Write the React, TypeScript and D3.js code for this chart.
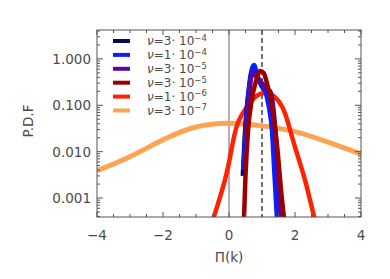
import React from "react";
import * as d3 from "d3";

const W = 390, H = 279;
const M = { left: 97, right: 361, top: 30, bottom: 217 };

const xDomain = [-4, 4];
const yDomain = [0.00039, 4.2];
const xTickLabels = [-4, -2, 0, 2, 4];
const yTickLabels = [0.001, 0.01, 0.1, 1];
const yTickText = ["0.001", "0.010", "0.100", "1.000"];

const legendCoef = ["3", "1", "3", "3", "1", "3"];
const legendExp = ["4", "4", "5", "5", "6", "7"];
const colors = ["#06065e", "#0a1eff", "#5508a0", "#9a0000", "#ff2200", "#ffa352"];
const widths = [4.5, 4.5, 4.5, 4.5, 4.5, 5];

const navyX = [0.42, 0.5, 0.6, 0.7, 0.85, 1.0, 1.15, 1.3, 1.45, 1.55];
const navyY = [0.003, 0.04, 0.2, 0.55, 0.4, 0.25, 0.18, 0.05, 0.005, 0.0003];
const blueX = [0.44, 0.5, 0.55, 0.62, 0.76, 0.85, 1.0, 1.1, 1.2, 1.3, 1.38, 1.46];
const blueY = [0.004, 0.03, 0.1, 0.3, 0.74, 0.45, 0.27, 0.2, 0.1, 0.03, 0.003, 0.0003];
const purpleX = [0.5, 0.6, 0.72, 0.85, 1.0, 1.15, 1.25, 1.35, 1.45, 1.57];
const purpleY = [0.02, 0.15, 0.5, 0.4, 0.3, 0.22, 0.2, 0.08, 0.01, 0.0003];
const darkRedX = [0.45, 0.5, 0.58, 0.68, 0.8, 0.95, 1.05, 1.15, 1.3, 1.45, 1.6, 1.68];
const darkRedY = [0.0003, 0.003, 0.03, 0.12, 0.3, 0.55, 0.5, 0.3, 0.1, 0.015, 0.001, 0.0003];
const redX = [-0.5, -0.42, -0.12, 0.09, 0.27, 0.55, 0.82, 1.09, 1.36, 1.61, 1.79, 2.0, 2.3, 2.55, 2.65];
const redY = [0.0003, 0.00048, 0.0025, 0.0126, 0.042, 0.093, 0.157, 0.185, 0.157, 0.093, 0.042, 0.0126, 0.0025, 0.00048, 0.0003];
const orangeX = [-4, -3, -2, -1, 0, 1, 2, 3, 4];
const orangeY = [0.0039, 0.0078, 0.018, 0.034, 0.041, 0.036, 0.027, 0.016, 0.0089];

const seriesX = [navyX, blueX, purpleX, darkRedX, redX, orangeX];
const seriesY = [navyY, blueY, purpleY, darkRedY, redY, orangeY];
const drawOrder = [5, 4, 0, 1, 2, 3];

export default function App() {
  const x = d3.scaleLinear().domain(xDomain).range([M.left, M.right]);
  const y = d3.scaleLog().domain(yDomain).range([M.bottom, M.top]);
  const axisCol = "#555";
  const textCol = "#4a4a4a";
  const font = "'DejaVu Sans', sans-serif";

  const xMinor = d3.range(-4, 4.001, 0.5);
  const yMinor: number[] = [];
  for (let e = -4; e <= 0; e++) {
    for (let k = 1; k < 10; k++) {
      const v = k * Math.pow(10, e);
      if (v >= yDomain[0] && v <= yDomain[1]) yMinor.push(v);
    }
  }

  const makeLine = (i: number) => {
    const pts = seriesX[i].map((xv, j) => [xv, seriesY[i][j]] as [number, number]);
    const curve = i >= 4 ? d3.curveNatural : d3.curveMonotoneX;
    return d3
      .line<[number, number]>()
      .x((d) => x(d[0]))
      .y((d) => y(d[1]))
      .curve(curve)(pts) as string;
  };

  return (
    <svg width={W} height={H} style={{ position: "absolute", left: 0, top: 0 }}>
      <rect x={0} y={0} width={W} height={H} fill="#fff" />
      <defs>
        <clipPath id="plotclip">
          <rect x={M.left} y={M.top} width={M.right - M.left} height={M.bottom - M.top} />
        </clipPath>
      </defs>
      <line x1={x(0)} x2={x(0)} y1={M.top} y2={M.bottom} stroke="#666" strokeWidth={1} />
      <line x1={x(1)} x2={x(1)} y1={M.top} y2={M.bottom} stroke="#444" strokeWidth={1.5} strokeDasharray="5,3" />
      <g clipPath="url(#plotclip)">
        {drawOrder.map((i) => (
          <path key={i} d={makeLine(i)} fill="none" stroke={colors[i]} strokeWidth={widths[i]} strokeLinejoin="round" />
        ))}
      </g>
      <rect x={M.left} y={M.top} width={M.right - M.left} height={M.bottom - M.top} fill="none" stroke={axisCol} strokeWidth={1} />
      {xMinor.map((v) => {
        const major = Math.abs(v % 2) < 1e-9;
        const len = major ? 5 : 3;
        return (
          <g key={"xt" + v}>
            <line x1={x(v)} x2={x(v)} y1={M.bottom} y2={M.bottom - len} stroke={axisCol} />
            <line x1={x(v)} x2={x(v)} y1={M.top} y2={M.top + len} stroke={axisCol} />
          </g>
        );
      })}
      {yMinor.map((v, k) => {
        const major = yTickLabels.some((t) => Math.abs(t - v) / t < 1e-6);
        const len = major ? 6 : 3;
        return (
          <g key={"yt" + k}>
            <line x1={M.left} x2={M.left + len} y1={y(v)} y2={y(v)} stroke={axisCol} />
            <line x1={M.right} x2={M.right - len} y1={y(v)} y2={y(v)} stroke={axisCol} />
          </g>
        );
      })}
      {xTickLabels.map((v) => (
        <text key={"xl" + v} x={x(v)} y={240} textAnchor="middle" fontSize={13.5} fill={textCol} fontFamily={font}>
          {v < 0 ? "\u2212" + Math.abs(v) : String(v)}
        </text>
      ))}
      {yTickLabels.map((v, k) => (
        <text key={"yl" + k} x={91} y={y(v)} dy="0.36em" textAnchor="end" fontSize={13.5} fill={textCol} fontFamily={font}>
          {yTickText[k]}
        </text>
      ))}
      <text x={229} y={262} textAnchor="middle" fontSize={13.5} fill={textCol} fontFamily={font}>
        Π(k)
      </text>
      <text transform={`translate(33,121) rotate(-90)`} textAnchor="middle" fontSize={13.5} fill={textCol} fontFamily={font}>
        P.D.F
      </text>
      {legendCoef.map((c, i) => {
        const yy = 41 + i * 13.9;
        return (
          <g key={"lg" + i}>
            <line x1={113} x2={130} y1={yy} y2={yy} stroke={colors[i]} strokeWidth={4} />
            <text x={147} y={yy} dy="0.36em" fontSize={12} fill={textCol} fontFamily={font}>
              <tspan fontStyle="italic">ν</tspan>
              <tspan>{"=" + c + "· 10"}</tspan>
              <tspan dy="-4.5" fontSize={8.5}>{"\u2212" + legendExp[i]}</tspan>
            </text>
          </g>
        );
      })}
    </svg>
  );
}
